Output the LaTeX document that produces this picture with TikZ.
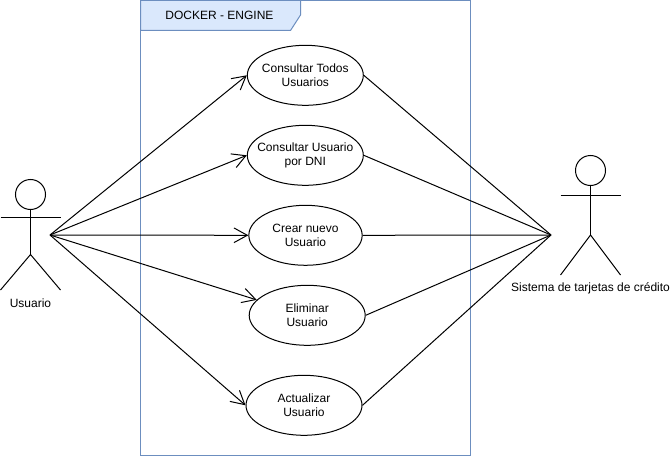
\documentclass[tikz,border=0pt]{standalone}
\usepackage{fontspec}
\setmainfont{Liberation Sans}
\usetikzlibrary{arrows.meta,shapes.geometric}
\definecolor{frameblue}{HTML}{6C8EBF}
\definecolor{tabblue}{HTML}{DAE8FC}
\tikzset{
  usecase/.style={draw=black,fill=white,ellipse,inner sep=-20pt,minimum width=87pt,minimum height=45pt,align=center,font=\fontsize{9}{10.5}\selectfont,line width=0.75pt},
  link/.style={draw=black,line width=0.75pt},
  arrowlink/.style={link,-{Straight Barb[length=10pt,width=11pt,line width=0.75pt]}},
  head/.style={draw=black,circle,inner sep=0pt,minimum size=22.5pt,line width=0.75pt},
  lbl/.style={inner sep=0pt,font=\fontsize{9}{10.5}\selectfont},
  limb/.style={draw=black,line width=0.75pt}
}
\begin{document}
\begin{tikzpicture}[x=0.75pt,y=-0.75pt]
\useasboundingbox (0,0) rectangle (670,456);
\fill[white] (0,0) rectangle (670,456);
% frame
\draw[frameblue,line width=0.75pt] (140.5,0.5) rectangle (470.5,455.5);
\draw[frameblue,fill=tabblue,line width=0.75pt] (140.5,0.5) -- (300.5,0.5) -- (300.5,15) -- (290.5,30.5) -- (140.5,30.5) -- cycle;
\node[lbl] (title) at (219.5,15.5) {DOCKER - ENGINE};
% left actor
\node[head] (h1) at (30.5,194.5) {};
\coordinate (b1) at (30.5,254.5);
\coordinate (a1l) at (0.5,217);
\coordinate (a1r) at (60.5,217);
\coordinate (l1l) at (0.5,290);
\coordinate (l1r) at (60.5,290);
\draw[limb] (h1.south) -- (b1);
\draw[limb] (a1l) -- (a1r);
\draw[limb] (l1l) -- (b1) -- (l1r);
\node[lbl] (usuario) at (30.5,303) {Usuario};
\coordinate (src) at (50,235);
% right actor
\node[head] (h2) at (590.5,170.5) {};
\coordinate (b2) at (590.5,235);
\coordinate (a2l) at (560.5,195.5);
\coordinate (a2r) at (620.5,195.5);
\coordinate (l2l) at (560.5,275);
\coordinate (l2r) at (620.5,275);
\draw[limb] (h2.south) -- (b2);
\draw[limb] (a2l) -- (a2r);
\draw[limb] (l2l) -- (b2) -- (l2r);
\node[lbl] (sistema) at (590.5,288) {Sistema de tarjetas de crédito};
\coordinate (dst) at (551,235);
% use cases
\node[usecase] (u1) at (305.3,75.3) {Consultar Todos\\Usuarios};
\node[usecase] (u2) at (305.3,155.3) {Consultar Usuario\\por DNI};
\node[usecase,minimum width=85pt] (u3) at (305.5,235.3) {Crear nuevo\\Usuario};
\node[usecase] (u4) at (307.2,315.3) {Eliminar\\Usuario};
\node[usecase] (u5) at (304,405.3) {Actualizar\\Usuario};
% connectors
\draw[arrowlink] (src) -- (u1.west);
\draw[arrowlink] (src) -- (u2.west);
\draw[arrowlink] (src) -- (u3.west);
\draw[arrowlink] (src) -- (u4.163.6);
\draw[arrowlink] (src) -- (u5.west);
\foreach \n in {u1,u2,u3,u4,u5}{
  \draw[link] (\n.east) -- (dst);
}
\end{tikzpicture}
\end{document}
